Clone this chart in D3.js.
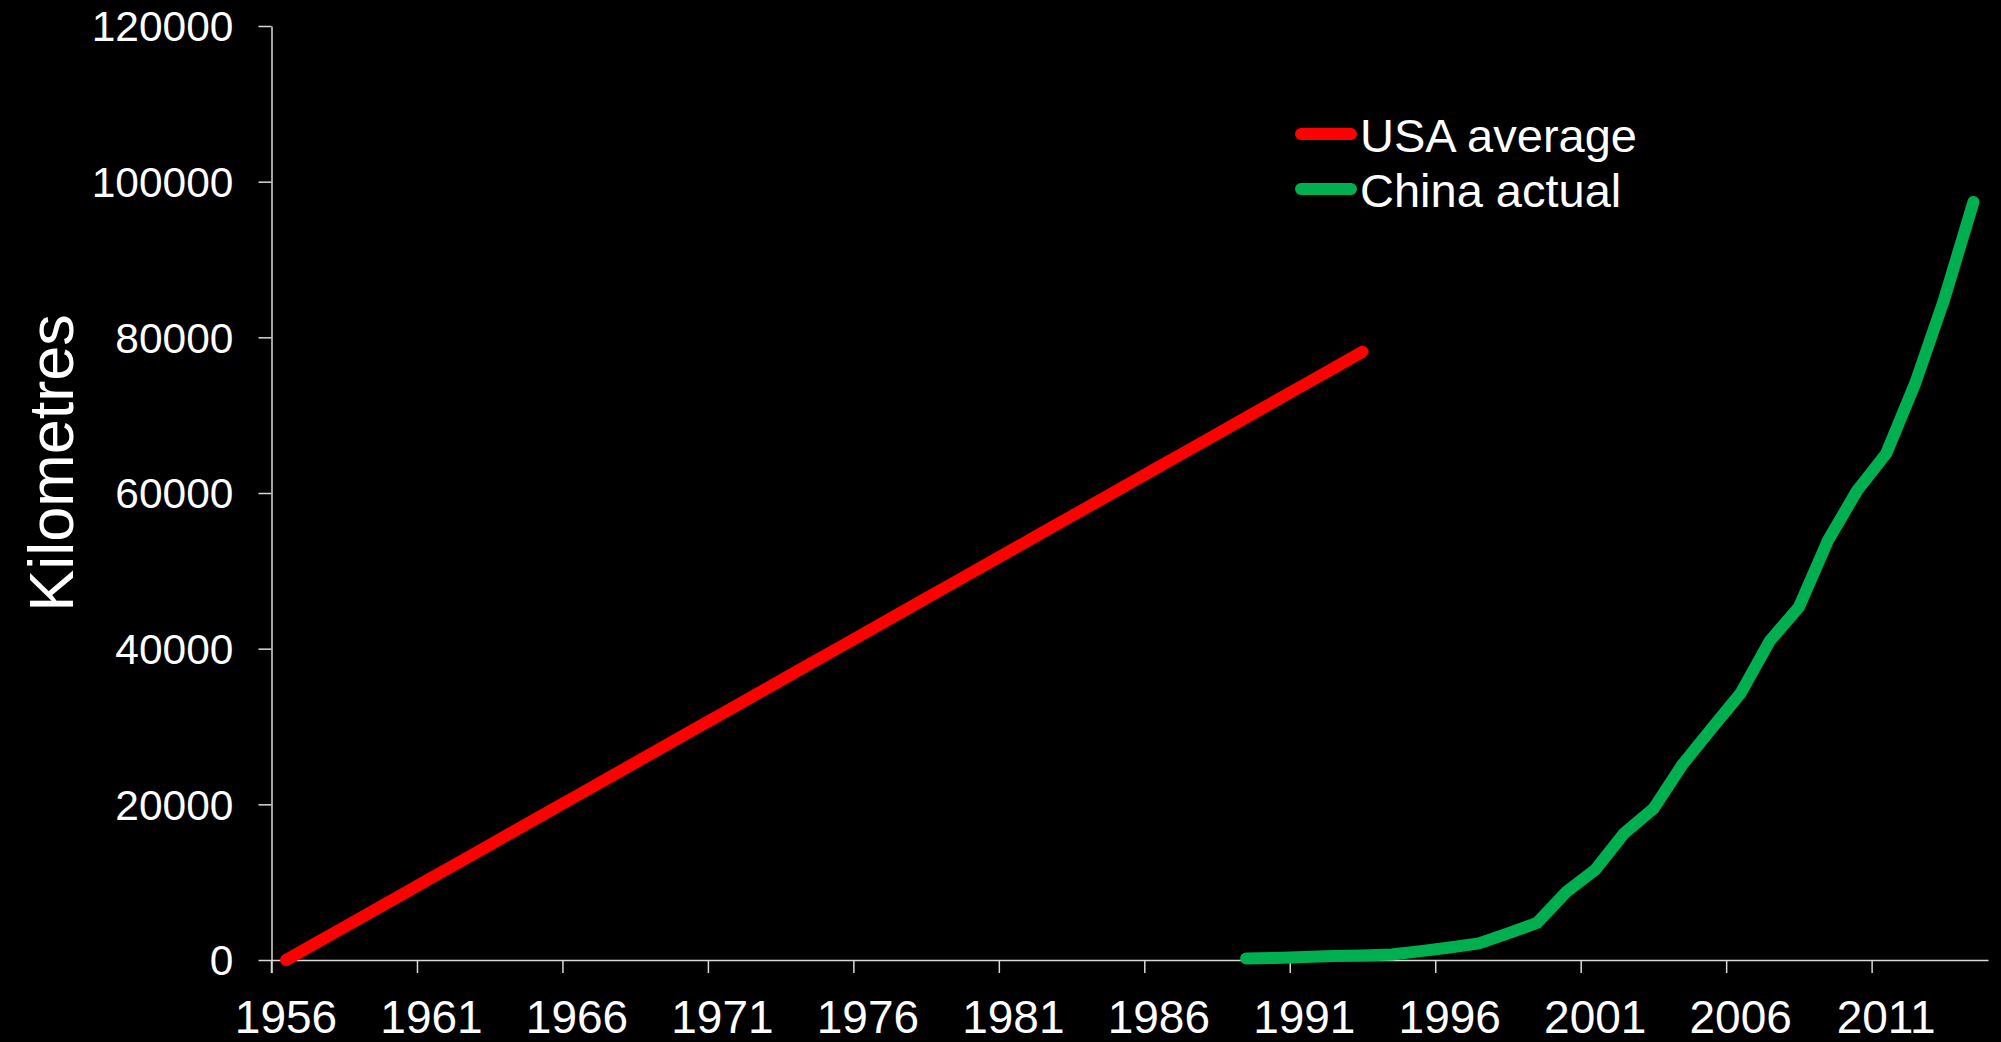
<!DOCTYPE html>
<html>
<head>
<meta charset="utf-8">
<script src="https://cdn.jsdelivr.net/npm/d3@7"></script>
<style>
  body { margin: 0; background: #000; }
  text { font-family: "Liberation Sans", Arial, sans-serif; fill: #fff; }
</style>
</head>
<body>
<div id="chart"></div>
<script>
// years on the category axis
var firstYear = 1956;
var lastYear = 2014;
var xTickYears = [1956, 1961, 1966, 1971, 1976, 1981, 1986, 1991, 1996, 2001, 2006, 2011];
var yTicks = [0, 20000, 40000, 60000, 80000, 100000, 120000];

// USA average, 1956-1993
var usaYears = d3.range(1956, 1994);
var usaValues = [0, 2112, 4224, 6336, 8449, 10561, 12673, 14785, 16897, 19009,
    21122, 23234, 25346, 27458, 29570, 31682, 33795, 35907, 38019, 40131,
    42243, 44355, 46468, 48580, 50692, 52804, 54916, 57028, 59141, 61253,
    63365, 65477, 67589, 69701, 71814, 73926, 76038, 78150];

// China actual, 1989-2014
var chinaYears = d3.range(1989, 2015);
var chinaValues = [200, 250, 400, 500, 570, 700, 1145, 1603, 2141, 3422,
    4771, 8733, 11605, 16314, 19437, 25130, 29745, 34288, 41005, 45339,
    53913, 60302, 65055, 74113, 84946, 97400];

var seriesNames = ["USA average", "China actual"];
var seriesColors = ["#ff0000", "#00b050"];

function init() {
    var w = 2001;
    var h = 1042;
    var left = 271.5, right = 1988, top = 26, bottom = 960;

    // boundaries between categories sit on whole years, points on year + 0.5
    var xScale = d3.scaleLinear()
        .domain([firstYear, lastYear + 1])
        .range([left, right]);

    var yScale = d3.scaleLinear()
        .domain([0, 120000])
        .range([bottom, top]);

    var svg = d3.select("#chart")
        .append("svg")
        .attr("width", w)
        .attr("height", h)
        .style("background", "#000");

    // y axis
    var yAxis = svg.append("g")
        .attr("transform", "translate(" + left + ",0)")
        .call(d3.axisLeft(yScale).tickValues(yTicks).tickFormat(d3.format("d"))
            .tickSize(13).tickSizeOuter(0).tickPadding(25));
    yAxis.selectAll("text").style("font-size", "42.5px").attr("dy", "0.35em");

    // x axis
    var xAxis = svg.append("g")
        .attr("transform", "translate(0," + bottom + ")")
        .call(d3.axisBottom(xScale).tickValues(xTickYears).tickSize(13).tickSizeOuter(0).tickFormat(""));
    xAxis.append("line")
        .attr("x1", left).attr("x2", left)
        .attr("y1", 0).attr("y2", 13);

    svg.selectAll(".domain, .tick line, g > line")
        .attr("stroke", "#d9d9d9")
        .attr("stroke-width", 1.5);

    svg.append("g")
        .selectAll("text")
        .data(xTickYears)
        .enter()
        .append("text")
        .attr("x", function(d) { return xScale(d + 0.5); })
        .attr("y", bottom + 73)
        .attr("text-anchor", "middle")
        .style("font-size", "46px")
        .text(function(d) { return d; });

    // axis title
    svg.append("text")
        .attr("transform", "translate(73," + ((top + bottom) / 2 - 30) + ") rotate(-90)")
        .attr("text-anchor", "middle")
        .style("font-size", "63px")
        .text("Kilometres");

    var line = d3.line()
        .x(function(d) { return xScale(d[0] + 0.5); })
        .y(function(d) { return yScale(d[1]); });

    var series = [
        d3.zip(usaYears, usaValues),
        d3.zip(chinaYears, chinaValues)
    ];

    svg.append("g")
        .selectAll("path")
        .data(series)
        .enter()
        .append("path")
        .attr("d", line)
        .attr("fill", "none")
        .attr("stroke", function(d, i) { return seriesColors[i]; })
        .attr("stroke-width", 12)
        .attr("stroke-linecap", "round")
        .attr("stroke-linejoin", "round");

    // legend
    var legend = svg.append("g")
        .selectAll("g")
        .data(seriesNames)
        .enter()
        .append("g")
        .attr("transform", function(d, i) { return "translate(1301," + (134 + i * 55) + ")"; });

    legend.append("line")
        .attr("x1", 0).attr("x2", 50)
        .attr("stroke", function(d, i) { return seriesColors[i]; })
        .attr("stroke-width", 12)
        .attr("stroke-linecap", "round");

    legend.append("text")
        .attr("x", 59)
        .attr("y", 18)
        .style("font-size", "47px")
        .text(function(d) { return d; });
}

window.onload = init;
</script>
</body>
</html>
